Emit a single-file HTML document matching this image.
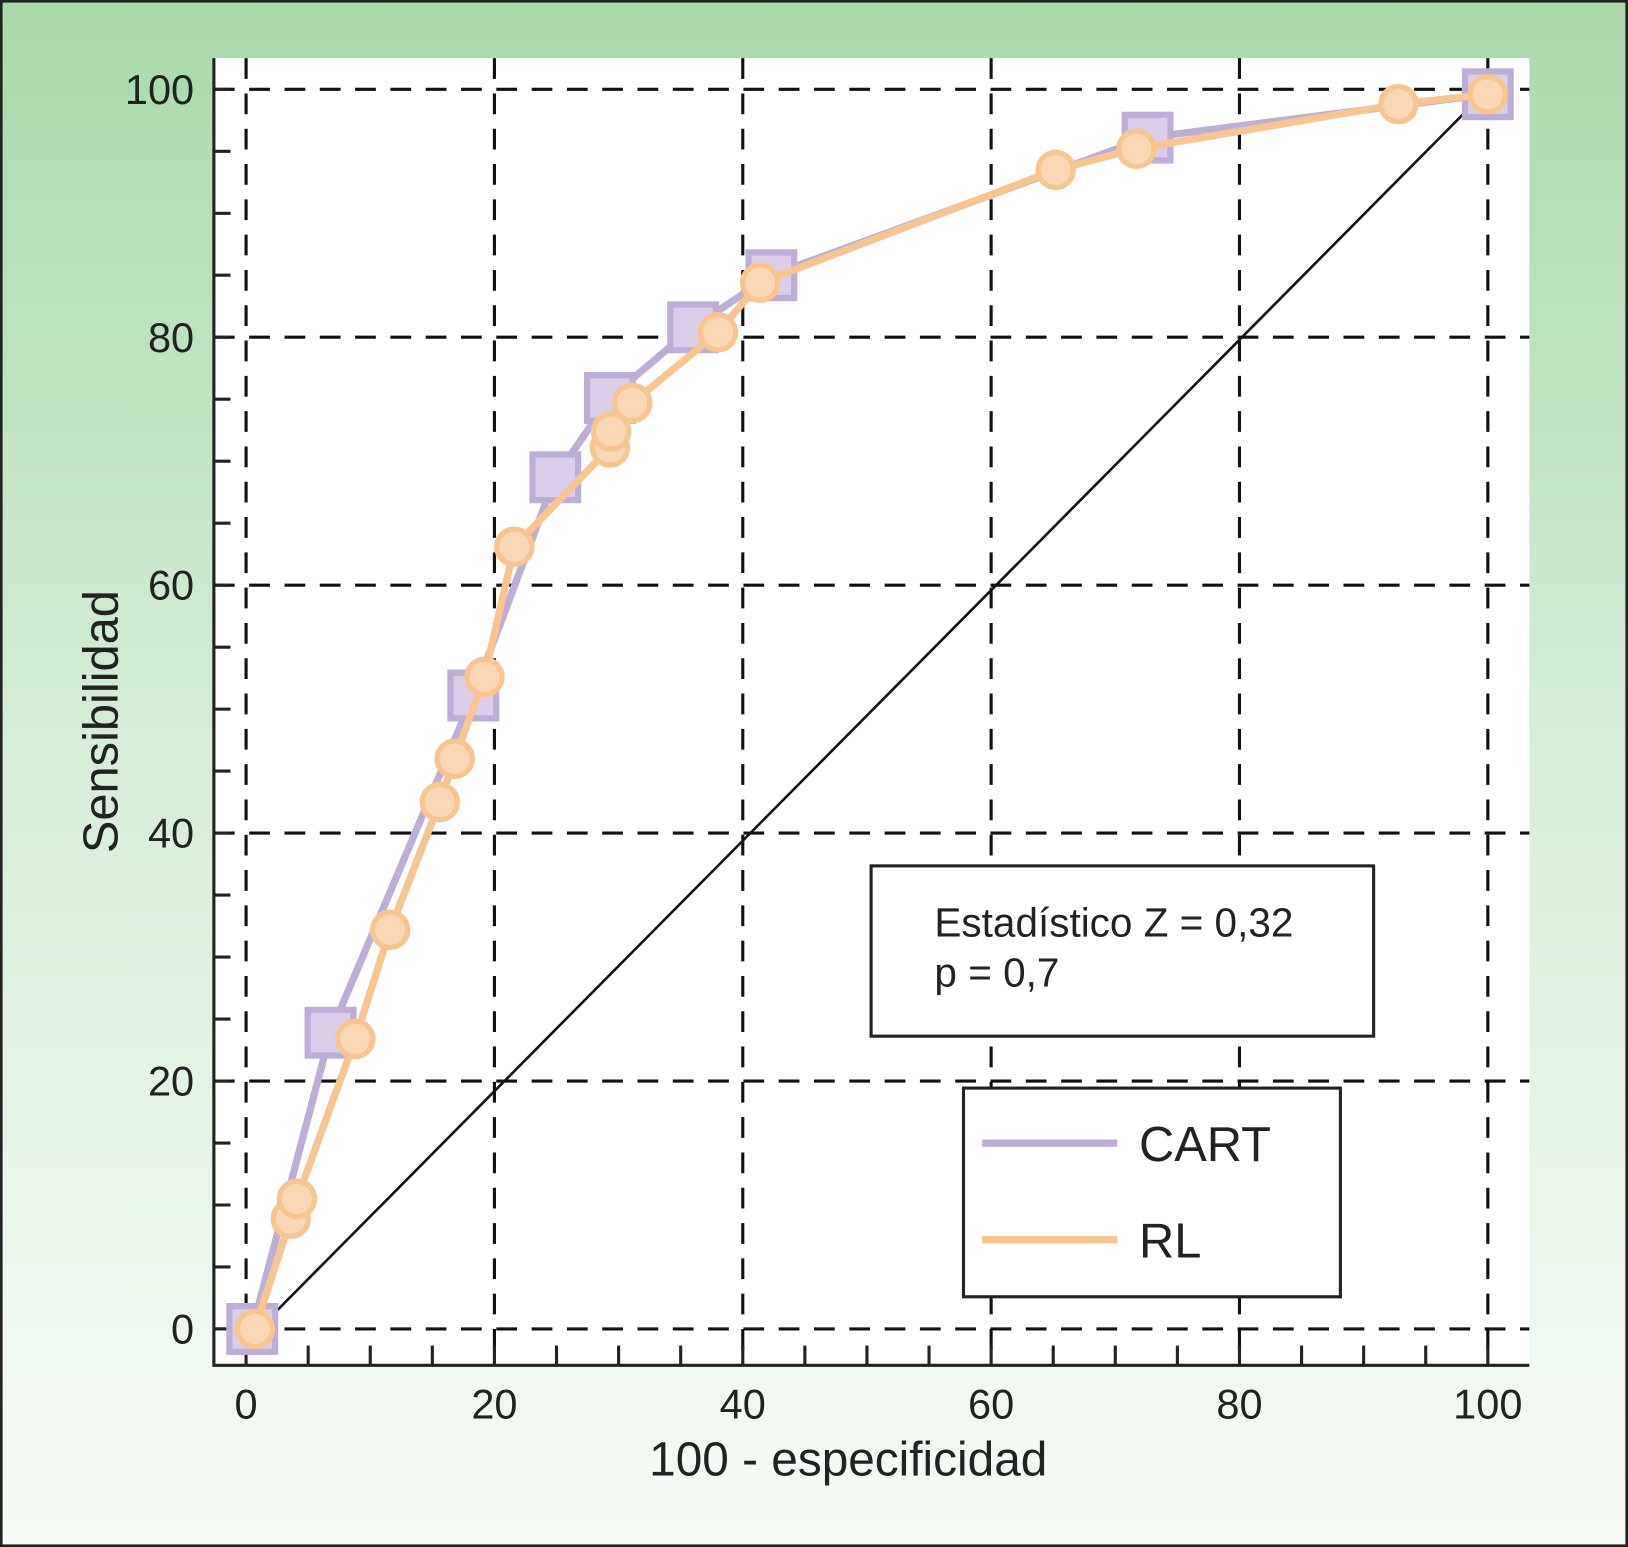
<!DOCTYPE html>
<html><head><meta charset="utf-8"><style>
html,body{margin:0;padding:0;}
svg{display:block;font-family:"Liberation Sans",Arial,sans-serif;}
</style></head><body>
<svg id="chart" width="1628" height="1547" viewBox="0 0 1568 1490" xmlns="http://www.w3.org/2000/svg">
<defs><linearGradient id="bg" x1="0" y1="0" x2="0" y2="1">
<stop offset="0" stop-color="#a9d8ab"/><stop offset="0.5" stop-color="#d8eed9"/><stop offset="1" stop-color="#f6fbf6"/></linearGradient></defs>
<rect x="1" y="1" width="1566" height="1488" fill="url(#bg)" stroke="#222" stroke-width="3"/>
<rect x="206" y="56" width="1267" height="1259" fill="#fff"/>
<g id="grid"></g>
<g id="ticks"></g>
<line id="diag" stroke="#111" stroke-width="2.5"/>
<g id="series"></g>
<path d="M206,56 V1315 H1473" fill="none" stroke="#222" stroke-width="3"/>
<g id="labels" font-size="40" fill="#222"></g>
<text x="817" y="1421" font-size="46" text-anchor="middle" fill="#222">100 - especificidad</text>
<text transform="translate(113,695) rotate(-90)" font-size="47" text-anchor="middle" fill="#222">Sensibilidad</text>
<g>
<rect x="839" y="834" width="484" height="164" fill="#fff" stroke="#222" stroke-width="3"/>
<text x="900" y="902" font-size="39" fill="#222">Estadístico Z = 0,32</text>
<text x="900" y="950" font-size="39" fill="#222">p = 0,7</text>
</g>
<g>
<rect x="928" y="1048" width="363" height="201" fill="#fff" stroke="#222" stroke-width="3"/>
<line x1="946" y1="1101" x2="1076" y2="1101" stroke="#bcaed6" stroke-width="7"/>
<text x="1097" y="1118" font-size="47" fill="#222">CART</text>
<line x1="946" y1="1194" x2="1076" y2="1194" stroke="#f8c58e" stroke-width="7"/>
<text x="1097" y="1211" font-size="47" fill="#222">RL</text>
</g>
</svg>
<script>
const xTicks=[0,20,40,60,80,100];
const yTicks=[0,20,40,60,80,100];
const cartX=[0.5,6.8,18.3,24.9,29.3,36,42.3,72.6,100];
const cartY=[0,23.9,51.1,68.7,75.1,80.8,85,96.1,99.6];
const rlX=[0.7,3.6,4.1,8.8,11.6,15.6,16.8,19.2,21.6,29.3,29.4,31.1,38,41.4,65.2,71.7,92.8,100];
const rlY=[0,8.9,10.5,23.4,32.2,42.5,46,52.6,63.1,71.1,72.4,74.7,80.4,84.4,93.5,95.2,98.8,99.6];

const NS="http://www.w3.org/2000/svg";
const sx=v=>237+v*11.96, sy=v=>1280-v*11.94;
function mk(tag,parent,attrs){const e=document.createElementNS(NS,tag);for(const k in attrs)e.setAttribute(k,attrs[k]);document.getElementById(parent).appendChild(e);return e;}
xTicks.forEach(t=>{
 const g=mk('line','grid',{x1:sx(t),x2:sx(t),y1:56,y2:1315,stroke:'#111','stroke-width':3,'stroke-dasharray':'20 14'});
 
 
 const l=mk('text','labels',{x:sx(t),y:1366,'text-anchor':'middle'});l.textContent=t;
 
 
});
yTicks.forEach(t=>{
 const g=mk('line','grid',{x1:206,x2:1473,y1:sy(t),y2:sy(t),stroke:'#111','stroke-width':3,'stroke-dasharray':'20 14'});
 
 
 const l=mk('text','labels',{x:187,y:sy(t)+14,'text-anchor':'end'});l.textContent=t;
 
 
});
for(let v=0;v<=100;v+=5){
 const a=mk('line','ticks',{x1:sx(v),x2:sx(v),y1:1315,y2:1296,stroke:'#222','stroke-width':3});
 
 
 const b=mk('line','ticks',{x1:206,x2:222,y1:sy(v),y2:sy(v),stroke:'#222','stroke-width':3});
 
 
}
const d=document.getElementById('diag');
d.setAttribute('x1',sx(2.5));d.setAttribute('y1',sy(1.5));d.setAttribute('x2',sx(100));d.setAttribute('y2',sy(100));
const cl=mk('polyline','series',{points:cartX.map((x,i)=>sx(x)+','+sy(cartY[i])).join(' '),fill:'none',stroke:'#bcaed6','stroke-width':7});


cartX.forEach((x,i)=>{
 const r=mk('rect','series',{x:sx(x)-22,y:sy(cartY[i])-22,width:44,height:44,fill:'#d9cde8',stroke:'#bcaed6','stroke-width':6});
 
 
});
const rl=mk('polyline','series',{points:rlX.map((x,i)=>sx(x)+','+sy(rlY[i])).join(' '),fill:'none',stroke:'#f8c58e','stroke-width':7});


rlX.forEach((x,i)=>{
 const c=mk('circle','series',{cx:sx(x),cy:sy(rlY[i]),r:17,fill:'#fbd8b3',stroke:'#f8c58e','stroke-width':5});
 
 
});
</script>
</body></html>
